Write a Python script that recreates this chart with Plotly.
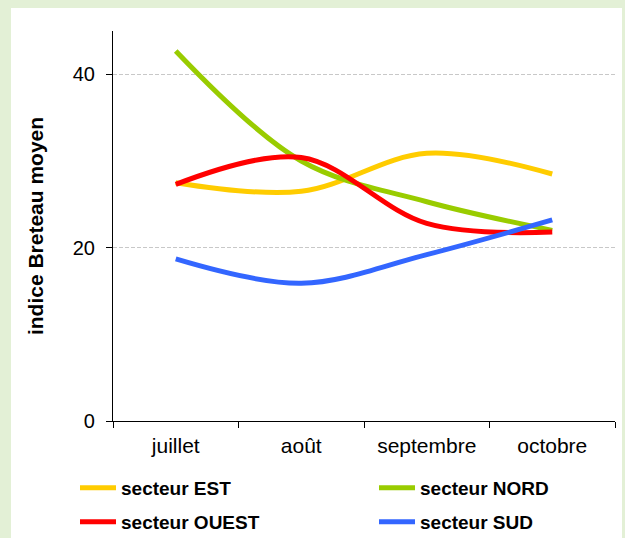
import plotly.graph_objects as go

months = ["juillet", "août", "septembre", "octobre"]
est = [27.5, 26.5, 30.9, 28.5]
nord = [42.7, 30.0, 25.3, 22.0]
ouest = [27.3, 30.4, 22.8, 21.8]
sud = [18.7, 15.9, 19.2, 23.2]

series = [
    ("secteur EST", est, "#FFCC00", "legend", 75, 469),
    ("secteur NORD", nord, "#99CC00", "legend2", 374, 469),
    ("secteur OUEST", ouest, "#FF0000", "legend3", 75, 503),
    ("secteur SUD", sud, "#3366FF", "legend4", 374, 503),
]

W, H = 625, 538
L, R, T, B = 113, 10, 31, 117
pw, ph = W - L - R, H - T - B

fig = go.Figure()
legends = {}
for name, vals, col, lg, lx, ly in series:
    fig.add_trace(go.Scatter(x=months, y=vals, name=name, mode="lines", legend=lg,
                             line=dict(color=col, width=5, shape="spline")))
    legends[lg] = dict(orientation="h", xref="container", yref="container",
                       x=lx / W, y=1 - ly / H, xanchor="left", yanchor="top",
                       itemwidth=36,
                       font=dict(size=19, family="Liberation Sans, Arial", weight="bold"),
                       bgcolor="rgba(0,0,0,0)")

fig.add_shape(type="rect", xref="paper", yref="paper",
              x0=(11 - L) / pw, x1=(622 - L) / pw,
              y0=-(B + 5) / ph, y1=(H - B - 8) / ph,
              fillcolor="white", line=dict(width=0), layer="below")

fig.update_layout(
    width=W, height=H,
    margin=dict(l=L, r=R, t=T, b=B, autoexpand=False),
    paper_bgcolor="#E3F0D6",
    plot_bgcolor="rgba(0,0,0,0)",
    font=dict(family="Liberation Sans, Arial", color="black"),
    showlegend=True,
    xaxis=dict(showline=True, linecolor="black", linewidth=1.2,
               ticks="outside", ticklen=6, tickcolor="black", tickson="boundaries",
               showgrid=False, tickfont=dict(size=21), ticklabelstandoff=6,
               range=[-0.5, 3.5]),
    yaxis=dict(range=[0, 45], tickvals=[0, 20, 40], showline=True, linecolor="black",
               linewidth=1.2, ticks="outside", ticklen=6, tickcolor="black",
               showgrid=True, gridcolor="#C8C8C8", griddash="4px,2px", gridwidth=1,
               zeroline=False, tickfont=dict(size=20), ticklabelstandoff=7,
               title=dict(text="<b>indice Breteau moyen</b>", font=dict(size=21),
                          standoff=23)),
    **legends,
)

fig.write_html("out.html", config={"displayModeBar": False},
               post_script="document.body.style.margin='0px';")
